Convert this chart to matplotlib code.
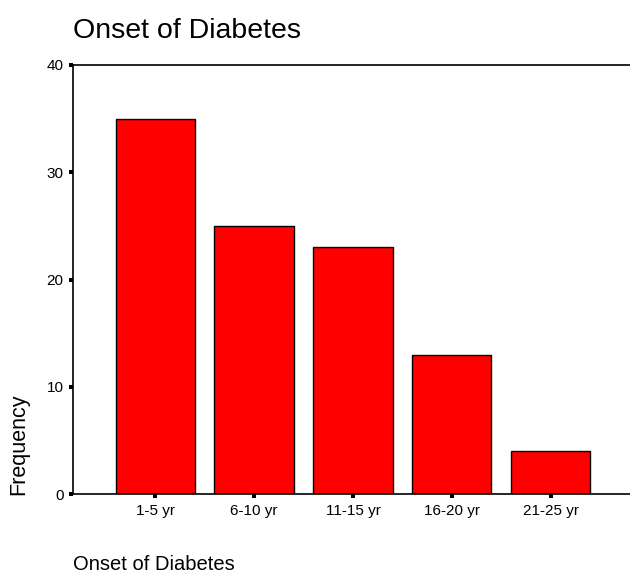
import matplotlib.pyplot as plt

categories = ['1-5 yr', '6-10 yr', '11-15 yr', '16-20 yr', '21-25 yr']
frequency = [35, 25, 23, 13, 4]
y_ticks = [0, 10, 20, 30, 40]

plt.rcParams['font.family'] = ['Liberation Sans', 'DejaVu Sans']

fig = plt.figure(figsize=(6.3, 5.75), dpi=100)
ax = fig.add_axes([73 / 630, 81 / 575, 557 / 630, 429 / 575])

x = range(len(categories))
ax.bar(x, frequency, width=0.8, color='#ff0000', edgecolor='black', linewidth=1)

ax.set_xlim(-0.83, 4.8)
ax.set_ylim(0, 40)
ax.set_yticks(y_ticks)
ax.set_xticks(list(x))
ax.set_xticklabels(categories)

ax.spines['right'].set_visible(False)
for s in ['left', 'bottom', 'top']:
    ax.spines[s].set_linewidth(1.2)
ax.tick_params(axis='both', direction='out', length=2.9, width=2.9, labelsize=11, color='black')
ax.tick_params(axis='y', pad=4)
ax.tick_params(axis='x', pad=4)

# titles placed like the original (baseline positions in pixels)
fig.text(73 / 630, 1 - 38.5 / 575, 'Onset of Diabetes', fontsize=20.5, ha='left', va='baseline')
fig.text(73 / 630, 1 - 569.5 / 575, 'Onset of Diabetes', fontsize=14.5, ha='left', va='baseline')
fig.text(19 / 630, 1 - 495 / 575, 'Frequency', fontsize=15.5, rotation=90, ha='center', va='bottom')

plt.savefig('out.png', dpi=100)
